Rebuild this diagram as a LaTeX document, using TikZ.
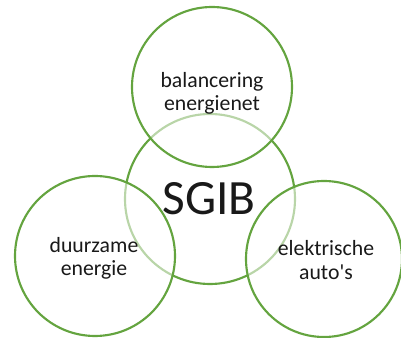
\documentclass[tikz,border=0pt]{standalone}
\usepackage{fontspec}
\setmainfont{Carlito}
\newfontfamily\plainfont{Carlito}
\definecolor{cgreen}{HTML}{64A43F}
\begin{document}
\begin{tikzpicture}[x=0.75pt,y=-0.75pt,
  ring/.style={circle,draw=cgreen,line width=1.6pt,fill=white,fill opacity=0.55,text opacity=1,align=center,inner sep=0pt},
  lbl/.style={font=\fontsize{16.3pt}{17.5pt}\selectfont,align=center,text=black!90}]
\useasboundingbox (0,0) rectangle (401,338);
\node[ring,minimum size=170*0.75pt] (c) at (210,199) {};
\node[ring,minimum size=160*0.75pt] (t) at (212,87) {};
\node[ring,minimum size=160*0.75pt] (l) at (95,256) {};
\node[ring,minimum size=156*0.75pt] (r) at (324,259) {};
\node[font=\fontsize{37pt}{40pt}\selectfont,text=black!90] (sgib) at (209,199) {SGIB};
\node[lbl] (tl) at (212,93) {balancering\\energienet};
\node[lbl] (ll) at (94,258) {duurzame\\energie};
\node[lbl] (rl) at (326,260) {elektrische\\auto{\plainfont '}s};
\end{tikzpicture}
\end{document}
